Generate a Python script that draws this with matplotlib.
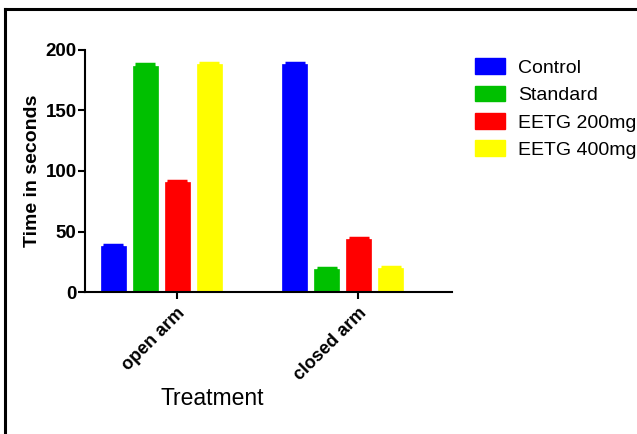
import matplotlib
matplotlib.use("Agg")
import matplotlib.pyplot as plt
from matplotlib.lines import Line2D
from matplotlib.patches import Patch
import numpy as np

plt.rcParams["font.family"] = ["Liberation Sans", "DejaVu Sans"]

groups = ["open arm", "closed arm"]
series = ["Control", "Standard", "EETG 200mg", "EETG 400mg"]
means = {
    "Control": [38, 188],
    "Standard": [187, 19],
    "EETG 200mg": [91, 44],
    "EETG 400mg": [188, 20],
}
sems = {
    "Control": [1.0, 1.0],
    "Standard": [1.5, 0.8],
    "EETG 200mg": [1.0, 1.0],
    "EETG 400mg": [1.0, 0.8],
}
colors = ["#0000ff", "#00c000", "#ff0000", "#ffff00"]

fig = plt.figure(figsize=(6.37, 4.34), dpi=100)
ax = fig.add_axes([0.1334, 0.327, 0.5762, 0.558])

step = 1.0
width = 0.78
group_gap = 5.66
for i, (name, c) in enumerate(zip(series, colors)):
    x = np.arange(len(groups)) * group_gap + i * step
    ax.bar(x, means[name], width=width, color=c, edgecolor=c, linewidth=0.5,
           yerr=sems[name], ecolor=c, capsize=7,
           error_kw={"elinewidth": 2, "capthick": 2.5})

# Prism-style ticks sit a little right of the group centre
tick_pos = np.arange(len(groups)) * group_gap + 1.98
ax.set_xticks(tick_pos)
ax.set_xticklabels(groups, rotation=45, ha="right", va="top",
                   rotation_mode="anchor", fontweight="bold", fontsize=13)
ax.set_xlim(-0.89, 10.58)
ax.set_ylim(0, 200)
ax.set_yticks([0, 50, 100, 150, 200])
for lab in ax.get_yticklabels():
    lab.set_fontweight("bold")
    lab.set_fontsize(13.5)

for s in ["top", "right"]:
    ax.spines[s].set_visible(False)
for s in ["left", "bottom"]:
    ax.spines[s].set_linewidth(1.5)
ax.tick_params(axis="both", width=1.5, length=5, pad=1)
ax.tick_params(axis="x", pad=4)

ax.set_ylabel("Time in seconds", fontweight="bold", fontsize=14, labelpad=3)
ax.set_xlabel("Treatment", fontsize=16.5)
ax.xaxis.set_label_coords(0.346, -0.39)

handles = [Patch(facecolor=c, edgecolor=c) for c in colors]
fig.legend(handles, series, loc="upper left", bbox_to_anchor=(0.733, 0.884),
           frameon=False, fontsize=14, handlelength=1.55, handleheight=0.88,
           labelspacing=0.45, handletextpad=0.67, borderaxespad=0)

# outer frame of the exported graph
fig.add_artist(Line2D([0.008, 0.008], [0.0, 0.979], color="black", lw=2.2))
fig.add_artist(Line2D([0.008, 1.0], [0.979, 0.979], color="black", lw=2.2))

fig.savefig("out.png", dpi=100)
